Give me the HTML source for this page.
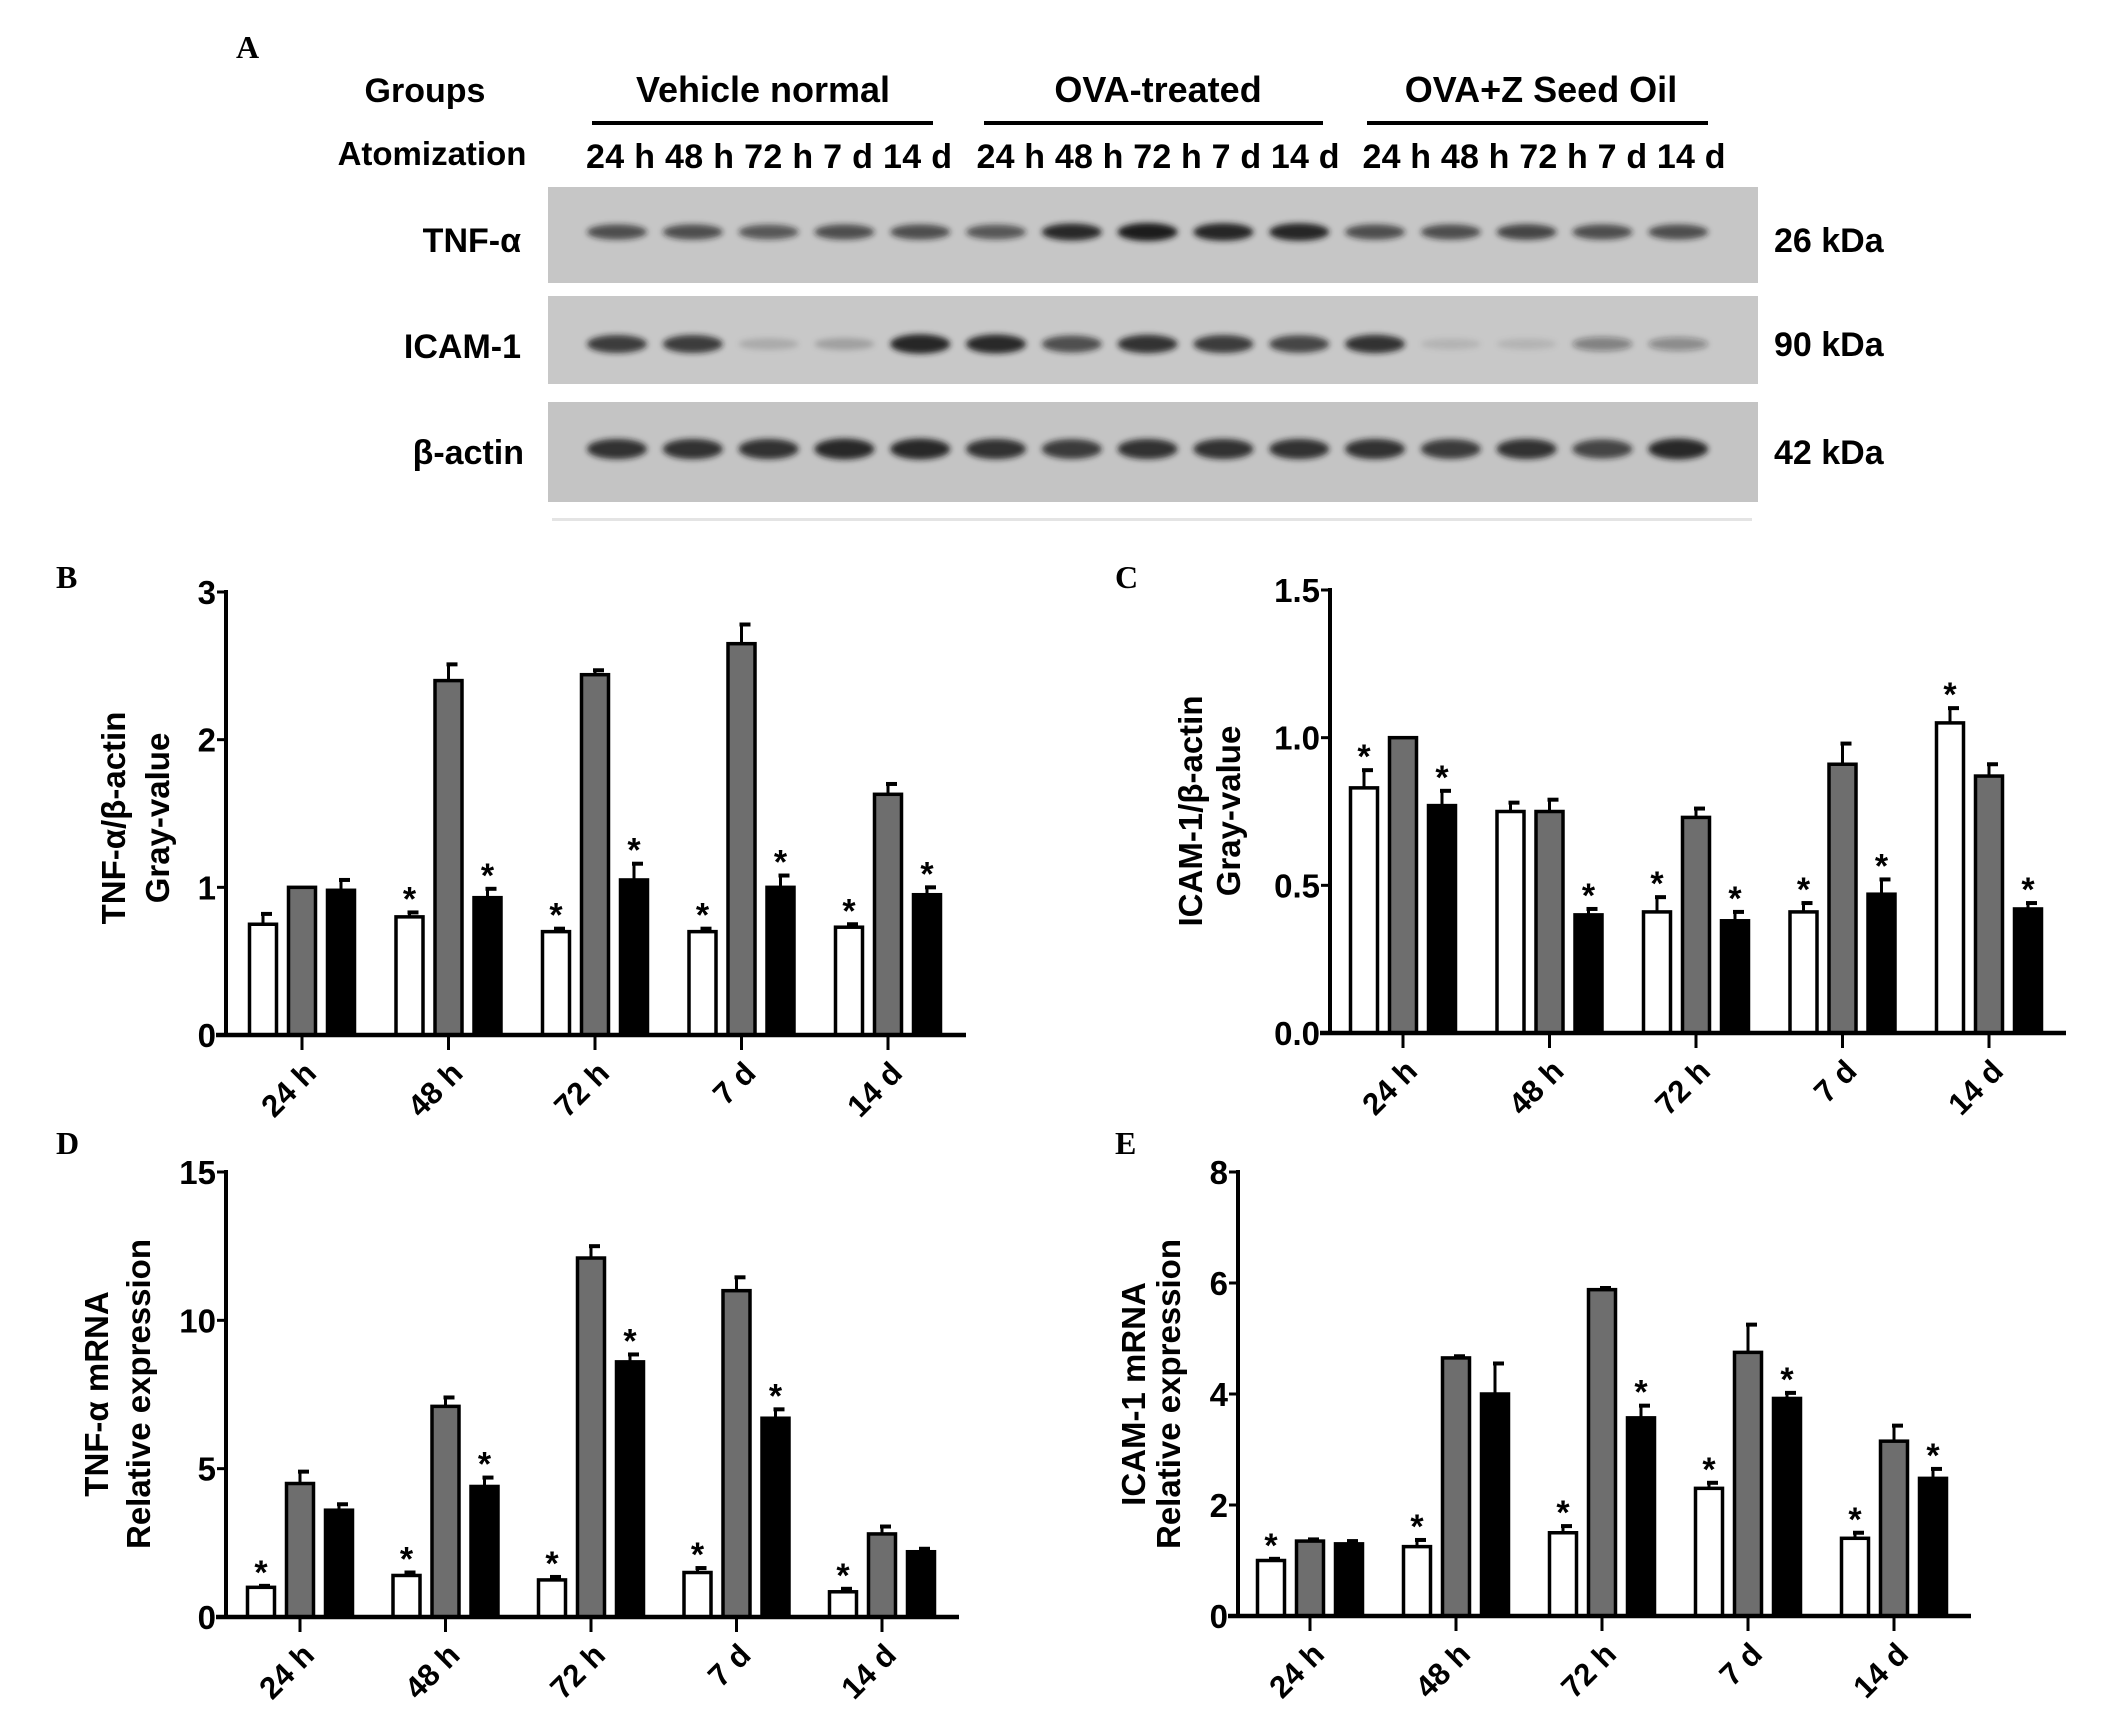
<!DOCTYPE html>
<html><head><meta charset="utf-8"><style>
html,body{margin:0;padding:0;background:#fff}
svg{display:block}
text{font-family:"Liberation Sans",Arial,sans-serif;font-weight:bold;fill:#000}
.pl{font-family:"Liberation Serif",serif;font-size:32px}
</style></head><body>
<svg id="fig" width="2126" height="1720" viewBox="0 0 2126 1720" xmlns="http://www.w3.org/2000/svg">
<defs><filter id="bl" x="-20%" y="-100%" width="140%" height="300%"><feGaussianBlur stdDeviation="3"/></filter></defs>
<g>
<text class="pl" x="236" y="58">A</text>
<text x="425" y="102" font-size="34" text-anchor="middle">Groups</text>
<text x="763" y="102" font-size="36" text-anchor="middle">Vehicle normal</text>
<text x="1158" y="102" font-size="36" text-anchor="middle">OVA-treated</text>
<text x="1541" y="102" font-size="36" text-anchor="middle">OVA+Z Seed Oil</text>
<rect x="592" y="121" width="341" height="4"/>
<rect x="984" y="121" width="339" height="4"/>
<rect x="1367" y="121" width="341" height="4"/>
<text x="432" y="165" font-size="33" text-anchor="middle">Atomization</text>
<text x="769" y="168" font-size="34" text-anchor="middle" textLength="366">24 h 48 h 72 h 7 d 14 d</text>
<text x="1158" y="168" font-size="34" text-anchor="middle" textLength="363">24 h 48 h 72 h 7 d 14 d</text>
<text x="1544" y="168" font-size="34" text-anchor="middle" textLength="363">24 h 48 h 72 h 7 d 14 d</text>
<rect x="548" y="187" width="1210" height="96" fill="#c6c6c6"/>
<rect x="548" y="296" width="1210" height="88" fill="#c8c8c8"/>
<rect x="548" y="402" width="1210" height="100" fill="#c4c4c4"/>
<rect x="552" y="518" width="1200" height="3" fill="#e4e4e4"/>
<g id="bands" filter="url(#bl)"></g>
<text x="521" y="252" font-size="34" text-anchor="end">TNF-α</text>
<text x="521" y="358" font-size="34" text-anchor="end">ICAM-1</text>
<text x="524" y="464" font-size="34" text-anchor="end">β-actin</text>
<text x="1774" y="252" font-size="34">26 kDa</text>
<text x="1774" y="356" font-size="34">90 kDa</text>
<text x="1774" y="464" font-size="34">42 kDa</text>
</g>
<g id="charts"></g>
</svg>
<script>
// Blot band intensities (0-1) per lane
const tnfBand = [0.7,0.7,0.65,0.7,0.7,0.65,0.9,1,0.95,0.95,0.7,0.7,0.75,0.7,0.7];
const icamBand = [0.8,0.8,0.15,0.2,0.95,0.9,0.7,0.85,0.8,0.75,0.85,0.1,0.1,0.4,0.35];
const actinBand = [0.85,0.85,0.85,0.9,0.9,0.85,0.8,0.85,0.85,0.85,0.85,0.8,0.85,0.75,0.9];

const cats = ["24 h","48 h","72 h","7 d","14 d"];
const bWhite=[0.75,0.80,0.70,0.70,0.73], bWhiteErr=[0.07,0.03,0.02,0.02,0.02];
const bGray=[1.0,2.40,2.44,2.65,1.63], bGrayErr=[0,0.11,0.03,0.13,0.07];
const bBlack=[0.98,0.93,1.05,1.0,0.95], bBlackErr=[0.07,0.06,0.11,0.08,0.05];
const bTicks=["0","1","2","3"];
const cWhite=[0.83,0.75,0.41,0.41,1.05], cWhiteErr=[0.06,0.03,0.05,0.03,0.05];
const cGray=[1.0,0.75,0.73,0.91,0.87], cGrayErr=[0,0.04,0.03,0.07,0.04];
const cBlack=[0.77,0.40,0.38,0.47,0.42], cBlackErr=[0.05,0.02,0.03,0.05,0.02];
const cTicks=["0.0","0.5","1.0","1.5"];
const dWhite=[1.0,1.4,1.25,1.5,0.85], dWhiteErr=[0.05,0.1,0.1,0.15,0.1];
const dGray=[4.5,7.1,12.1,11.0,2.8], dGrayErr=[0.4,0.3,0.4,0.45,0.25];
const dBlack=[3.6,4.4,8.6,6.7,2.2], dBlackErr=[0.2,0.3,0.25,0.3,0.1];
const dTicks=["0","5","10","15"];
const eWhite=[1.0,1.25,1.5,2.3,1.4], eWhiteErr=[0.03,0.12,0.12,0.1,0.1];
const eGray=[1.35,4.65,5.88,4.75,3.15], eGrayErr=[0.03,0.03,0.03,0.5,0.28];
const eBlack=[1.3,4.0,3.57,3.92,2.48], eBlackErr=[0.05,0.55,0.22,0.1,0.17];
const eTicks=["0","2","4","6","8"];
// significance stars [white, black] per category
const bStars=[[0,0],[1,1],[1,1],[1,1],[1,1]];
const cStars=[[1,1],[0,1],[1,1],[1,1],[1,1]];
const dStars=[[1,0],[1,1],[1,1],[1,1],[1,0]];
const eStars=[[1,0],[1,0],[1,1],[1,1],[1,1]];

const NS="http://www.w3.org/2000/svg";
function mk(tag,attrs,parent){const e=document.createElementNS(NS,tag);for(const k in attrs)e.setAttribute(k,attrs[k]);parent.appendChild(e);return e;}

const bandG=document.getElementById('bands');
function drawBands(vals,y,h,name){
  vals.forEach((v,i)=>{
    const cx=617+i*75.8;
    const e=mk('ellipse',{cx:cx,cy:y,rx:30,ry:h*(0.5+0.5*v),fill:'#1a1a1a','fill-opacity':v},bandG);
    
    
  });
}
drawBands(tnfBand,232,9,'tnf');
drawBands(icamBand,344,10,'icam');
drawBands(actinBand,449,11,'actin');

const charts=document.getElementById('charts');
function chart(o){
  const g=mk('g',{},charts);
  
  
  const n=o.ticks.length-1;
  const y=v=>o.y0-(v/o.max)*(o.y0-o.yTop);
  const x=i=>o.x1+i*o.step;
  const lab=mk('text',{x:o.lx,y:o.ly,class:'pl'},g);lab.textContent=o.letter;
  
  
  const series=[[o.w,o.we,'#fff',-39],[o.g,o.ge,'#6e6e6e',0],[o.b,o.be,'#000',39]];
  series.forEach((s,si)=>{
    s[0].forEach((v,i)=>{
      const cx=x(i)+s[3], top=y(v), et=y(v+s[1][i]);
      if(s[1][i]>0){
        const l=mk('line',{x1:cx,x2:cx,y1:top,y2:et,stroke:'#000','stroke-width':3},g);
        
        
        const c=mk('line',{x1:cx-2,x2:cx+9,y1:et,y2:et,stroke:'#000','stroke-width':4},g);
        
        
      }
      const r=mk('rect',{x:cx-13.5,y:top,width:27,height:o.y0-top,fill:s[2],stroke:'#000','stroke-width':3.5},g);
      
      
      if(si!==1 && o.stars[i][si===0?0:1]){
        const t=mk('text',{x:cx,y:et-2,'font-size':34,'text-anchor':'middle'},g);t.textContent='*';
        
        
      }
    });
  });
  const ya=mk('line',{x1:o.ax,x2:o.ax,y1:o.yTop-2,y2:o.y0+2,stroke:'#000','stroke-width':4},g);
  
  
  const xa=mk('line',{x1:o.ax-10,x2:o.axEnd,y1:o.y0,y2:o.y0,stroke:'#000','stroke-width':4.5},g);
  
  
  o.ticks.forEach((t,k)=>{
    const v=o.max*k/n, yy=y(v);
    mk('line',{x1:o.ax-9,x2:o.ax,y1:yy,y2:yy,stroke:'#000','stroke-width':3},g);
    const tt=mk('text',{x:o.ax-10,y:yy+12,'font-size':33,'text-anchor':'end'},g);tt.textContent=t;
    
    
  });
  cats.forEach((c,i)=>{
    mk('line',{x1:x(i),x2:x(i),y1:o.y0,y2:o.y0+15,stroke:'#000','stroke-width':3},g);
    const t=mk('text',{x:x(i)+16,y:o.y0+40,'font-size':31,'text-anchor':'end',transform:`rotate(-45 ${x(i)+16} ${o.y0+40})`},g);
    t.textContent=c;
    
    
  });
  o.title.forEach((s,k)=>{
    const tx=o.tx[k];
    const t=mk('text',{x:tx,y:o.ty,'font-size':33,'text-anchor':'middle',transform:`rotate(-90 ${tx} ${o.ty})`},g);
    t.textContent=s;
    
    
  });
}
chart({name:'chart-b-tnf-protein',letter:'B',lx:56,ly:588,ax:226,axEnd:966,yTop:592,y0:1035,max:3,ticks:bTicks,x1:302,step:146.5,
  w:bWhite,we:bWhiteErr,g:bGray,ge:bGrayErr,b:bBlack,be:bBlackErr,stars:bStars,title:['TNF-α/β-actin','Gray-value'],tx:[125,169],ty:818});
chart({name:'chart-c-icam-protein',letter:'C',lx:1115,ly:588,ax:1330,axEnd:2066,yTop:590,y0:1033,max:1.5,ticks:cTicks,x1:1403,step:146.5,
  w:cWhite,we:cWhiteErr,g:cGray,ge:cGrayErr,b:cBlack,be:cBlackErr,stars:cStars,title:['ICAM-1/β-actin','Gray-value'],tx:[1202,1240],ty:811});
chart({name:'chart-d-tnf-mrna',letter:'D',lx:56,ly:1154,ax:226,axEnd:959,yTop:1172,y0:1617,max:15,ticks:dTicks,x1:300,step:145.5,
  w:dWhite,we:dWhiteErr,g:dGray,ge:dGrayErr,b:dBlack,be:dBlackErr,stars:dStars,title:['TNF-α mRNA','Relative expression'],tx:[108,150],ty:1394});
chart({name:'chart-e-icam-mrna',letter:'E',lx:1115,ly:1154,ax:1238,axEnd:1971,yTop:1172,y0:1616,max:8,ticks:eTicks,x1:1310,step:146,
  w:eWhite,we:eWhiteErr,g:eGray,ge:eGrayErr,b:eBlack,be:eBlackErr,stars:eStars,title:['ICAM-1 mRNA','Relative expression'],tx:[1145,1180],ty:1394});
</script>
</body></html>
